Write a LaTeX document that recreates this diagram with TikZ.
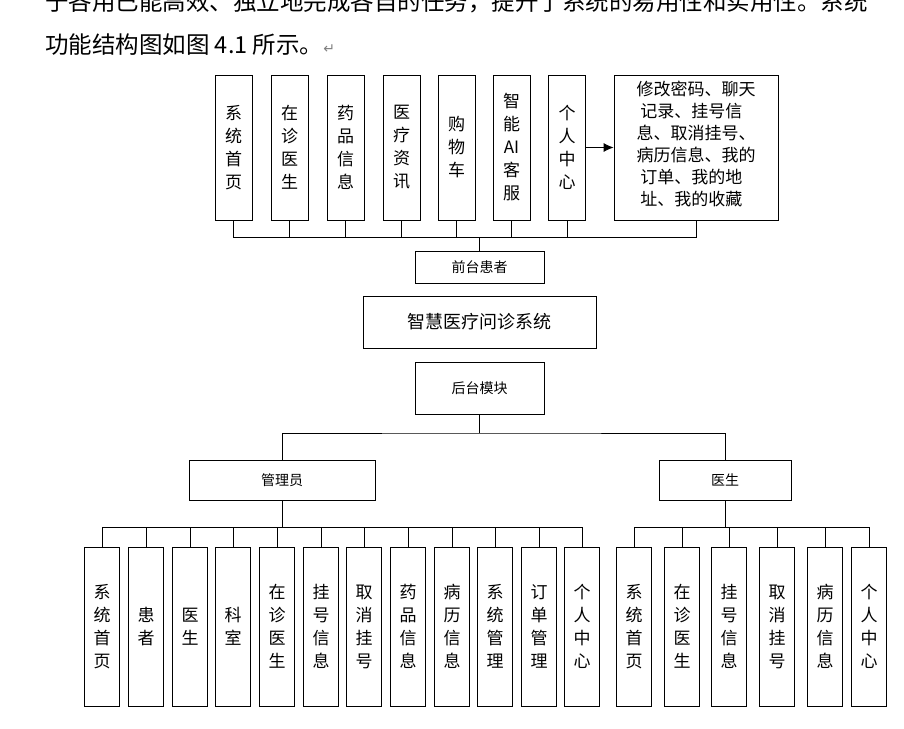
\documentclass[tikz,border=0pt]{standalone}
\usepackage{fontspec}
\usetikzlibrary{arrows.meta}
\setmainfont{Noto Sans CJK SC}
\newfontfamily\symf{DejaVu Sans}
\begin{document}
\begin{tikzpicture}[x=1pt,y=-1pt,
  bx/.style={draw,line width=0.8pt,inner sep=0pt,font=\fontsize{17}{23}\selectfont,align=center},
  ln/.style={line width=0.8pt}]
\useasboundingbox (0,0) rectangle (904,728);
\fill[white] (0,0) rectangle (904,728);
\begin{scope}
\clip (0,0) rectangle (904,728);
\node[anchor=west,font=\fontsize{23.5}{23.5}\selectfont,inner sep=0pt] (t1) at (45,2) {于各用已能高效、独立地完成各自的任务，提升了系统的易用性和实用性。系统};
\end{scope}
\node[anchor=west,font=\fontsize{23.5}{23.5}\selectfont,inner sep=0pt] (t2) at (45,45) {功能结构图如图 4.1 所示。{\color{gray}\symf\fontsize{14}{14}\selectfont ↵}};
% top boxes
\foreach \n/\x/\t in {a1/233.5/{系\\统\\首\\页},a2/289.5/{在\\诊\\医\\生},a3/345.5/{药\\品\\信\\息},a4/401.5/{医\\疗\\资\\讯},a5/456.5/{购\\物\\车},a6/511.5/{智\\能\\AI\\客\\服},a7/567/{个\\人\\中\\心}}
  \node[bx,minimum width=37,minimum height=145] (\n) at (\x,147.5) {\t};
\node[bx,minimum width=164,minimum height=145] (big) at (696,147.5) {};
\node[font=\fontsize{17}{22}\selectfont,align=left,inner sep=0pt] (bigt) at (696,144) {修改密码、聊天\\\ 记录、挂号信\\息、取消挂号、\\病历信息、我的\\\ 订单、我的地\\\ 址、我的收藏};
\draw[ln,-{Latex[length=10pt,width=9pt]}] (a7) -- (big);
\node[bx,minimum width=129,minimum height=32,font=\fontsize{14}{14}\selectfont] (qt) at (479.5,267) {前台患者};
\node[bx,minimum width=233,minimum height=52,font=\fontsize{18}{18}\selectfont] (sys) at (479.5,322) {智慧医疗问诊系统};
\node[bx,minimum width=129,minimum height=52,font=\fontsize{14}{14}\selectfont] (ht) at (479.5,388) {后台模块};
\coordinate (tb) at (479.5,237);
\foreach \n in {a1,a2,a3,a4,a5,a6,a7,big} \draw[ln] (\n.south) |- (tb);
\draw[ln] (tb) -- (qt);
\node[bx,minimum width=186,minimum height=40,font=\fontsize{14}{14}\selectfont] (gly) at (282,480) {管理员};
\node[bx,minimum width=132,minimum height=40,font=\fontsize{14}{14}\selectfont] (ys) at (725,480) {医生};
\coordinate (hb) at (479.5,433);
\draw[ln] (ht) -- (hb);
\draw[ln] (gly.north) |- (hb) -| (ys.north);
\coordinate (gb) at (282,527);
\coordinate (yb) at (725,527);
\draw[ln] (gly) -- (gb);
\draw[ln] (ys) -- (yb);
\foreach \n/\x/\t in {b1/102/{系\\统\\首\\页},b2/146/{患\\者},b3/190/{医\\生},b4/233/{科\\室},b5/277/{在\\诊\\医\\生},b6/321/{挂\\号\\信\\息},b7/364/{取\\消\\挂\\号},b8/408/{药\\品\\信\\息},b9/452/{病\\历\\信\\息},b10/495/{系\\统\\管\\理},b11/539/{订\\单\\管\\理},b12/582/{个\\人\\中\\心}}
  {\node[bx,minimum width=35,minimum height=159] (\n) at (\x,626.5) {\t};
   \draw[ln] (\n.north) |- (gb);}
\foreach \n/\x/\t in {c1/634/{系\\统\\首\\页},c2/682/{在\\诊\\医\\生},c3/729/{挂\\号\\信\\息},c4/777/{取\\消\\挂\\号},c5/825/{病\\历\\信\\息},c6/869/{个\\人\\中\\心}}
  {\node[bx,minimum width=35,minimum height=159] (\n) at (\x,626.5) {\t};
   \draw[ln] (\n.north) |- (yb);}
\end{tikzpicture}
\end{document}
